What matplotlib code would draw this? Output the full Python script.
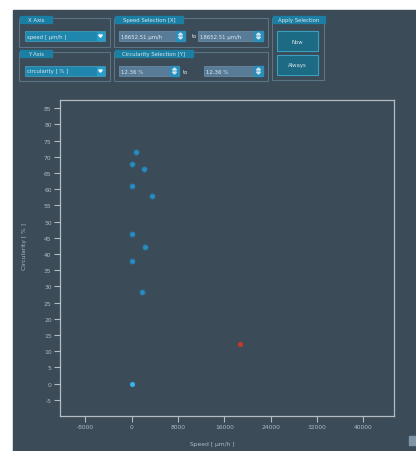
import numpy as np
import matplotlib
matplotlib.use("Agg")
import matplotlib.pyplot as plt
from matplotlib.patches import Rectangle, Polygon

plt.rcParams["axes.unicode_minus"] = False

# measured cells (speed in um/h, circularity in %)
speed = [690, 0, 2070, 0, 3530, 0, 2245, 0, 1680]
circularity = [71.4, 67.8, 66.2, 61.0, 58.0, 46.1, 42.1, 37.9, 28.2]
origin_pt = (0, 0)
selected_pt = (18652.51, 12.36)

xticks = [-8000, 0, 8000, 16000, 24000, 32000, 40000]
yticks = list(range(-5, 90, 5))

W, H = 416, 452
BG = "#3b4b57"
FG = "#aebbc5"
SPINE = "#b4bcc3"
TAB = "#1b7ea3"
BOX = "#5b7587"
TXT = "#dbe6ec"

fig = plt.figure(figsize=(W / 100, H / 100), dpi=100, facecolor="white")

# gui overlay in pixel coords
gui = fig.add_axes([0, 0, 1, 1], zorder=0)
gui.set_xlim(0, W)
gui.set_ylim(H, 0)
gui.axis("off")
gui.add_patch(Rectangle((13, 11), W - 13, H - 11, color=BG))


def group(x0, y0, x1, y1, title, tabw):
    gui.add_patch(Rectangle((x0, y0 + 1), x1 - x0, y1 - y0 - 1, fill=False, ec=BOX, lw=0.8))
    gui.add_patch(Rectangle((x0 + 1, y0 - 1), tabw, 7, color=TAB))
    gui.text(x0 + 1 + tabw / 2, y0 + 2.6, title, color=TXT, fontsize=3.9, ha="center", va="center")


def combo(x0, y0, x1, y1, label):
    gui.add_patch(Rectangle((x0, y0), x1 - x0, y1 - y0, color="#1f86ad", ec="#4aa3c5", lw=0.5))
    gui.add_patch(Rectangle((x1 - 8, y0 + 1), 7, y1 - y0 - 2, color="#2a9cc8"))
    cx, cy = x1 - 4.5, (y0 + y1) / 2
    gui.add_patch(Polygon([[cx - 1.8, cy - 1], [cx + 1.8, cy - 1], [cx, cy + 1.2]], color="white"))
    gui.text(x0 + 2, (y0 + y1) / 2, label, color=TXT, fontsize=3.9, va="center")


def spin(x0, y0, x1, y1, label):
    gui.add_patch(Rectangle((x0, y0), x1 - x0, y1 - y0, color="#587c98", ec="#6f93ad", lw=0.5))
    gui.add_patch(Rectangle((x1 - 9, y0), 9, y1 - y0, color="#2a8fba"))
    cx = x1 - 4.5
    gui.add_patch(Polygon([[cx - 2, y0 + 4], [cx + 2, y0 + 4], [cx, y0 + 2]], color="#cfe3ec"))
    gui.add_patch(Polygon([[cx - 2, y1 - 4], [cx + 2, y1 - 4], [cx, y1 - 2]], color="#cfe3ec"))
    gui.text(x0 + 2, (y0 + y1) / 2, label, color=TXT, fontsize=3.9, va="center")


def button(x0, y0, x1, y1, label):
    gui.add_patch(Rectangle((x0, y0), x1 - x0, y1 - y0, color="#1c6a84", ec="#3b9fc0", lw=0.8))
    gui.text((x0 + x1) / 2, (y0 + y1) / 2, label, color=TXT, fontsize=3.9, ha="center", va="center")


group(19, 18, 110, 48, "X Axis", 32)
combo(25, 32, 105, 42, "speed [ µm/h ]")
group(19, 52, 110, 82, "Y Axis", 32)
combo(25, 67, 105, 77, "circularity [ % ]")

group(114, 18, 268, 48, "Speed Selection [X]", 68)
spin(119, 32, 185, 42, "18652.51 µm/h")
gui.text(192, 37, "to", color=TXT, fontsize=3.9, va="center")
spin(198, 32, 263, 42, "18652.51 µm/h")
group(114, 52, 268, 82, "Circularity Selection [Y]", 78)
spin(119, 67, 179, 77, "12.36 %")
gui.text(183, 72, "to", color=TXT, fontsize=3.9, va="center")
spin(204, 67, 263, 77, "12.36 %")

group(272, 18, 324, 81, "Apply Selection", 52)
button(277, 32, 318, 52, "Now")
button(277, 56, 318, 76, "Always")

gui.add_patch(Rectangle((409, 437), 7, 9, color="#7f95a5"))

# scatter plot
ax = fig.add_axes([60 / W, 1 - 417 / H, 334 / W, 316 / H], zorder=1)
ax.set_facecolor(BG)
ax.scatter(speed, circularity, s=14, color="#2b8cc0", edgecolors="#2475a2", linewidths=0.6, zorder=3)
ax.scatter([origin_pt[0]], [origin_pt[1]], s=14, color="#35b2e8", lw=0, zorder=3)
ax.scatter([selected_pt[0]], [selected_pt[1]], s=14, color="#c0392b", lw=0, zorder=3)

ax.set_xlim(-12400, 45300)
ax.set_ylim(-10, 87.5)
ax.set_xticks(xticks)
ax.set_yticks(yticks)
ax.tick_params(colors=SPINE, labelcolor=FG, labelsize=4.3, length=4, width=0.8, pad=2)
for s in ax.spines.values():
    s.set_color(SPINE)
    s.set_linewidth(0.9)

ax.set_xlabel("Speed [ µm/h ]", color=FG, fontsize=4.3)
ax.set_ylabel("Circularity [ % ]", color=FG, fontsize=4.3)
ax.xaxis.set_label_coords(0.455, -0.079)
ax.yaxis.set_label_coords(-0.099, 0.54)

fig.savefig("out.png", dpi=100, facecolor="white")
